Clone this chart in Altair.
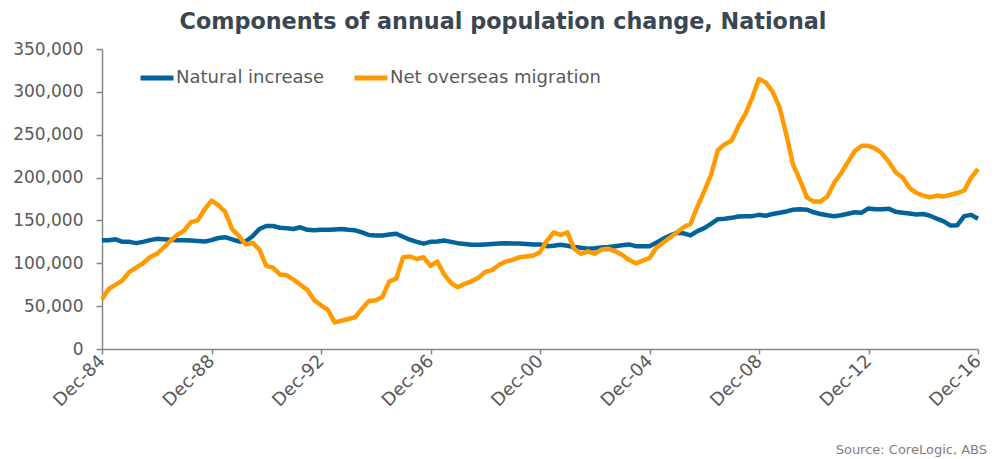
import altair as alt
import pandas as pd

# Quarterly observations, Dec-84 .. Dec-16
START = "1984-12-01"
N_QUARTERS = 129

NATURAL_INCREASE = [
    127000, 127000, 128000, 125000, 125000, 123500, 125000, 127000, 128500, 128000,
    127500, 127000, 127000, 126500, 126000, 125500, 127000, 129500, 130500, 128000,
    125500, 125500, 131500, 140000, 143500, 143500, 141500, 141000, 140000, 142000,
    139000, 138500, 139000, 139000, 139500, 140000, 139000, 138500, 136000, 133000,
    132500, 132500, 133500, 134500, 131000, 127500, 125000, 123000, 125000, 125500,
    126500, 125000, 123500, 122500, 121500, 121500, 122000, 122500, 123000, 123500,
    123000, 123000, 122500, 122000, 122000, 120000, 120500, 121500, 120500, 119000,
    118000, 117000, 117500, 118500, 119000, 120000, 121000, 122000, 120000, 120000,
    120000, 124000, 128500, 132500, 135500, 135000, 132500, 137500, 141000, 146000,
    151500, 152000, 153000, 154500, 155000, 155000, 156500, 155500, 157500, 159000,
    160500, 162500, 163000, 162500, 159500, 157500, 156000, 155000, 156000, 157800,
    159500, 159000, 164000, 163000, 163000, 163500, 160000, 159000, 158000, 157000,
    157500, 155500, 152000, 149000, 144000, 144500, 155000, 156500, 152000,
]

NET_OVERSEAS_MIGRATION = [
    58000, 70000, 75000, 80000, 90000, 95000, 100000, 107000, 111000, 118000,
    126000, 133000, 138000, 148000, 150000, 163000, 173000, 168000, 160000, 140000,
    132000, 122000, 124000, 116000, 97000, 95000, 87000, 86000, 81000, 75000,
    69000, 57000, 51000, 46000, 31000, 33000, 35000, 37000, 47000, 56000,
    57000, 61000, 79000, 82000, 107000, 108000, 105000, 107000, 97000, 102000,
    87000, 77000, 72000, 76000, 79000, 83000, 90000, 92000, 98000, 102000,
    104000, 107000, 108000, 109000, 113000, 126000, 136000, 133000, 136000, 117000,
    111000, 114000, 111000, 116000, 117000, 114000, 110000, 104000, 100000, 103000,
    106000, 118000, 124000, 130000, 136000, 142000, 146000, 166000, 184000, 203000,
    232000, 239000, 243000, 260000, 274000, 293000, 315000, 311000, 300000, 282000,
    250000, 215000, 197000, 177000, 172000, 172000, 178000, 194000, 205000, 218000,
    231000, 237000, 237000, 234000, 228000, 218000, 206000, 200000, 188000, 182000,
    179000, 177000, 179000, 178000, 180000, 182000, 185000, 200000, 210000,
]

SERIES = ["Natural increase", "Net overseas migration"]
COLORS = ["#00649A", "#FF9A00"]
Y_TICKS = [0, 50000, 100000, 150000, 200000, 250000, 300000, 350000]
X_TICK_YEARS = [1984, 1988, 1992, 1996, 2000, 2004, 2008, 2012, 2016]
TITLE = "Components of annual population change, National"
SOURCE = "Source: CoreLogic, ABS"

dates = pd.date_range(START, periods=N_QUARTERS, freq="QS-DEC")
df = pd.concat([
    pd.DataFrame({"date": dates, "series": SERIES[0], "value": NATURAL_INCREASE}),
    pd.DataFrame({"date": dates, "series": SERIES[1], "value": NET_OVERSEAS_MIGRATION}),
])

FONT = "DejaVu Sans"
GREY = "#595959"
AXIS = "#868686"

lines = alt.Chart(df).mark_line(strokeWidth=4.5, strokeJoin="round").encode(
    x=alt.X(
        "date:T",
        scale=alt.Scale(domain=[alt.DateTime(year=1984, month=12, date=1),
                                alt.DateTime(year=2016, month=12, date=1)]),
        axis=alt.Axis(
            title=None,
            values=[alt.DateTime(year=y, month=12, date=1) for y in X_TICK_YEARS],
            format="%b-%y",
            labelAngle=-45,
            labelAlign="right",
            labelBaseline="middle",
            labelPadding=4,
            labelFontSize=18,
            tickSize=5,
        ),
    ),
    y=alt.Y(
        "value:Q",
        scale=alt.Scale(domain=[0, 350000], nice=False),
        axis=alt.Axis(title=None, values=Y_TICKS, format=",.0f", tickSize=6, labelPadding=13),
    ),
    color=alt.Color(
        "series:N",
        scale=alt.Scale(domain=SERIES, range=COLORS),
        legend=alt.Legend(
            title=None,
            orient="none",
            legendX=36,
            legendY=10,
            direction="horizontal",
            symbolType="stroke",
            symbolSize=1089,
            symbolStrokeWidth=5,
            labelFont=FONT,
            labelFontSize=18,
            labelColor=GREY,
            labelOffset=0,
            labelLimit=0,
            columnPadding=20,
        ),
    ),
)

title = alt.Chart(pd.DataFrame({"t": [TITLE]})).mark_text(
    font=FONT, fontSize=22.3, fontWeight="bold", color="#3A4651",
    align="center", baseline="alphabetic",
).encode(x=alt.value(401), y=alt.value(-20), text="t:N")

source = alt.Chart(pd.DataFrame({"t": [SOURCE]})).mark_text(
    font=FONT, fontSize=13, color="#7F7F7F", align="right", baseline="alphabetic",
).encode(x=alt.value(885), y=alt.value(405), text="t:N")

chart = alt.layer(lines, title, source).properties(
    width=876,
    height=300,
    autosize=alt.AutoSizeParams(type="none"),
    padding={"left": 94, "top": 41, "right": 10, "bottom": 110},
).configure_view(stroke=None).configure_axis(
    grid=False,
    domainColor=AXIS,
    domainWidth=1.5,
    tickColor=AXIS,
    tickWidth=1.5,
    labelFont=FONT,
    labelFontSize=17,
    labelColor=GREY,
)

chart.save("out.html", embed_options={"renderer": "svg", "actions": False})
